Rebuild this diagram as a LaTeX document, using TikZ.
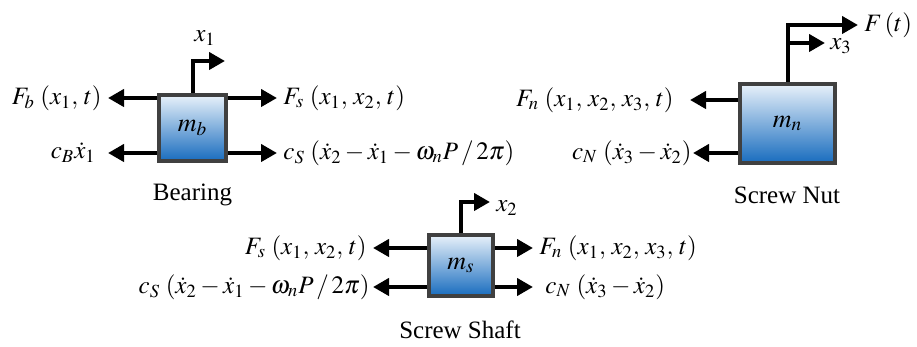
\documentclass[tikz,border=0pt]{standalone}
\usepackage{mathptmx}
\usepackage{fontspec}
\setmainfont{Liberation Serif}
\usetikzlibrary{arrows.meta,positioning}
\definecolor{massblue}{RGB}{24,108,190}
\definecolor{masslight}{RGB}{232,241,250}
\definecolor{massedge}{RGB}{64,64,64}
\tikzset{
  massbox/.style={
    draw=massedge,
    line width=2pt,
    top color=masslight,
    bottom color=massblue,
    inner sep=0pt,
    font=\fontsize{13}{15}\selectfont
  },
  force/.style={
    -{Triangle[length=8pt,width=8.5pt]},
    line width=2pt
  },
  flabel/.style={
    inner ysep=0pt,
    inner xsep=3pt
  }
}

\begin{document}
\begin{tikzpicture}[x=0.5pt,y=-0.5pt,font=\fontsize{12.5}{14}\selectfont]
    \useasboundingbox (0,0) rectangle (917,347);

    % bearing
    \node[massbox, minimum width=33.5pt, minimum height=33pt] (bear) at (192.5,128) {$m_b$};
    \node (bearname) at (192.5,195) {Bearing};
    \node[flabel, anchor=east] (fb) at (108,98) {$F_b\;(x_1,\,t)$};
    \node[flabel, anchor=east, inner xsep=6pt] (cb) at (108,153) {$c_B\dot{x}_1$};
    \node[flabel, anchor=west] (fs1) at (277,98) {$F_s\;(x_1,\,x_2,\,t)$};
    \node[flabel, anchor=west] (cs1) at (277,153) {$c_S\;(\dot{x}_2-\dot{x}_1-\omega_n P\,/\,2\pi)$};
    \coordinate (x1tip) at (225,61);
    \node (x1lbl) at (205,38) {$x_1$};

    \draw[force] (bear.west |- fb.east) -- (fb.east);
    \draw[force] (bear.west |- cb.east) -- (cb.east);
    \draw[force] (bear.east |- fs1.west) -- (fs1.west);
    \draw[force] (bear.east |- cs1.west) -- (cs1.west);
    \draw[force] (bear.north) |- (x1tip);

    % screw nut
    \node[massbox, minimum width=47.5pt, minimum height=39.5pt] (nut) at (787.5,123.5) {$m_n$};
    \node (nutname) at (787,195) {Screw Nut};
    \node[flabel, anchor=east, inner xsep=8pt] (fn1) at (690,100) {$F_n\;(x_1,\,x_2,\,x_3,\,t)$};
    \node[flabel, anchor=east, inner xsep=0.5pt] (cn1) at (693,153) {$c_N\;(\dot{x}_3-\dot{x}_2)$};
    \node[flabel, anchor=west] (ft) at (858,25) {$F\,(t)$};
    \coordinate (x3tip) at (825,43);
    \node (x3lbl) at (841,46) {$x_3$};

    \draw[force] (nut.west |- fn1.east) -- (fn1.east);
    \draw[force] (nut.west |- cn1.east) -- (cn1.east);
    \draw[force] (nut.north) |- (ft.west);
    \draw[force] (nut.north |- x3tip) -- (x3tip);

    % screw shaft
    \node[massbox, minimum width=32pt, minimum height=30.5pt] (shaft) at (461,265.5) {$m_s$};
    \node (shaftname) at (460,330) {Screw Shaft};
    \node[flabel, anchor=east] (fs2) at (373,248) {$F_s\;(x_1,\,x_2,\,t)$};
    \node[flabel, anchor=east, inner xsep=1.5pt] (cs2) at (373,287) {$c_S\;(\dot{x}_2-\dot{x}_1-\omega_n P\,/\,2\pi)$};
    \node[flabel, anchor=west] (fn2) at (533,248) {$F_n\;(x_1,\,x_2,\,x_3,\,t)$};
    \node[flabel, anchor=west, inner xsep=6pt] (cn2) at (533,287) {$c_N\;(\dot{x}_3-\dot{x}_2)$};
    \coordinate (x2tip) at (490,202);
    \node (x2lbl) at (507,208) {$x_2$};

    \draw[force] (shaft.west |- fs2.east) -- (fs2.east);
    \draw[force] (shaft.west |- cs2.east) -- (cs2.east);
    \draw[force] (shaft.east |- fn2.west) -- (fn2.west);
    \draw[force] (shaft.east |- cn2.west) -- (cn2.west);
    \draw[force] (shaft.north) |- (x2tip);
\end{tikzpicture}
\end{document}
